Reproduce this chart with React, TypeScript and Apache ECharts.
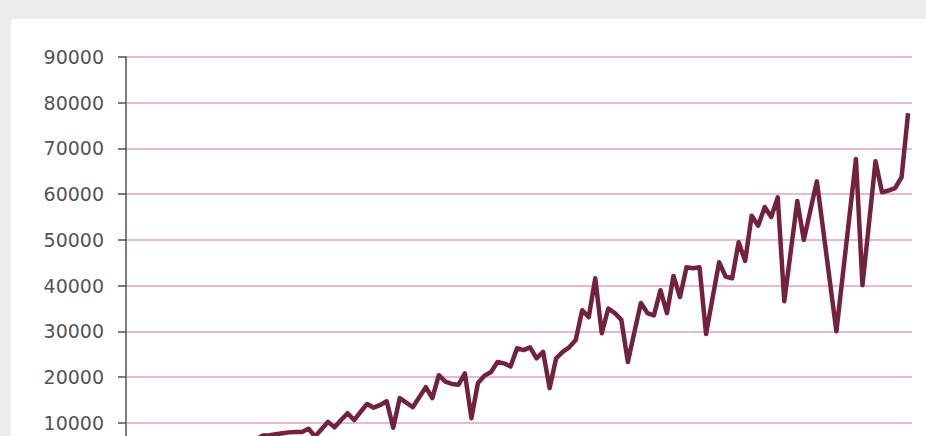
import React, { useEffect, useRef } from "react";
import * as echarts from "echarts";

const yTicks = [0, 10000, 20000, 30000, 40000, 50000, 60000, 70000, 80000, 90000];

// Monthly values, month index 0..120
const values: number[] = [
  3100, 3300, 3500, 3400, 3700, 2300, 3800, 4000, 3900, 4300,
  4500, 4400, 4800, 5000, 4900, 5300, 5500, 3600, 5600, 6000,
  6400, 7200, 7300, 7500, 7700, 7900, 8000, 8000, 8700, 7000,
  8600, 10200, 9000, 10600, 12100, 10600, 12400, 14100, 13300, 13900,
  14700, 8900, 15400, 14400, 13400, 15600, 17800, 15400, 20400, 19000,
  18500, 18300, 20800, 11000, 18700, 20300, 21100, 23300, 23000, 22300,
  26300, 25900, 26500, 24100, 25500, 17600, 24100, 25500, 26500, 28100,
  34600, 33100, 41600, 29600, 35000, 34000, 32500, 23300, 29800, 36200,
  34000, 33500, 39000, 34000, 42100, 37500, 44000, 43800, 44000, 29400,
  37300, 45100, 42000, 41600, 49500, 45400, 55300, 53100, 57200, 55000,
  59300, 36600, 47500, 58500, 50000, 56400, 62800, 51900, 40900, 30000,
  42600, 55100, 67700, 40100, 53600, 67200, 60400, 60800, 61300, 63700,
  77700,
];

export default function App() {
  const ref = useRef<HTMLDivElement>(null);
  useEffect(() => {
    if (!ref.current) return;
    const chart = echarts.init(ref.current, undefined, { renderer: "svg" });
    chart.setOption({
      animation: false,
      backgroundColor: "#ffffff",
      grid: { left: 115, right: 14, top: 38, bottom: 50.5, containLabel: false },
      xAxis: {
        type: "value",
        min: 0,
        max: 120.6,
        axisLine: { show: true, onZero: false, lineStyle: { color: "#4d5358", width: 1.5 } },
        axisTick: { show: false },
        axisLabel: { show: false },
        splitLine: { show: false },
      },
      yAxis: {
        type: "value",
        min: yTicks[0],
        max: yTicks[yTicks.length - 1],
        interval: 10000,
        axisLine: { show: true, lineStyle: { color: "#4d5358", width: 1.5 } },
        axisTick: { show: true, length: 8, lineStyle: { color: "#4d5358", width: 1.5 } },
        axisLabel: {
          margin: 22,
          color: "#50555c",
          fontSize: 19,
          fontFamily: "DejaVu Sans",
          formatter: (v: number) => String(v),
        },
        splitLine: { show: true, lineStyle: { color: "#e4a0b4", width: 1.5 } },
      },
      series: [
        {
          type: "line",
          data: values.map((v, i) => [i, v]),
          showSymbol: false,
          symbol: "none",
          lineStyle: { color: "#72223a", width: 4.5, join: "round" },
        },
      ],
    });
    return () => chart.dispose();
  }, []);

  return (
    <div
      style={{
        position: "fixed",
        left: 0,
        top: 0,
        width: 926,
        height: 436,
        overflow: "hidden",
        background: "#edecea",
      }}
    >
      <div
        ref={ref}
        style={{ position: "absolute", left: 11, top: 19, width: 915, height: 500 }}
      />
    </div>
  );
}
